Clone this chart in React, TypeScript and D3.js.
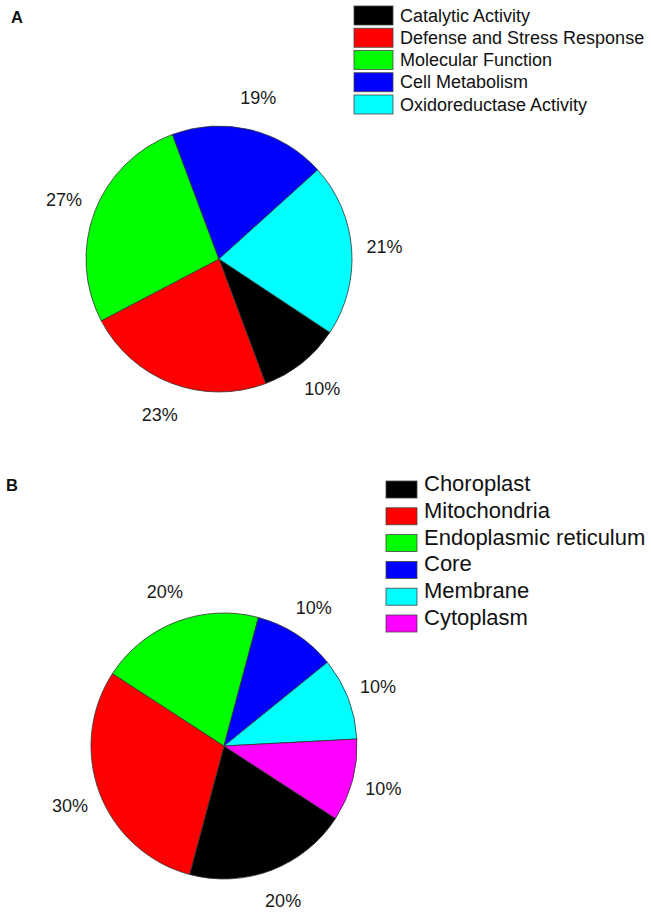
import React from "react";
import * as d3 from "d3";

const catsA = ["Catalytic Activity", "Defense and Stress Response", "Molecular Function", "Cell Metabolism", "Oxidoreductase Activity"];
const valsA = [10, 23, 27, 19, 21];
const colorsA = ["#000000", "#ff0000", "#00ff00", "#0000ff", "#00ffff"];

const catsB = ["Choroplast", "Mitochondria", "Endoplasmic reticulum", "Core", "Membrane", "Cytoplasm"];
const valsB = [20, 30, 20, 10, 10, 10];
const colorsB = ["#000000", "#ff0000", "#00ff00", "#0000ff", "#00ffff", "#ff00ff"];

const FONT = "'Liberation Sans', Arial, sans-serif";
const deg = Math.PI / 180;

type PieProps = {
  cx: number; cy: number; r: number; labelR: number; start: number;
  vals: number[]; colors: string[];
};

function Pie({ cx, cy, r, labelR, start, vals, colors }: PieProps) {
  const pie = d3.pie<number>().sort(null).value((d) => d)
    .startAngle(start * deg).endAngle(start * deg + 2 * Math.PI);
  const arcs = pie(vals);
  const arc = d3.arc<d3.PieArcDatum<number>>().innerRadius(0).outerRadius(r);
  const lab = d3.arc<d3.PieArcDatum<number>>().innerRadius(labelR).outerRadius(labelR);
  const total = d3.sum(vals);
  return (
    <g transform={`translate(${cx},${cy})`}>
      {arcs.map((a, i) => (
        <path key={i} d={arc(a) || ""} fill={colors[i]} stroke="#333" strokeWidth={0.8} />
      ))}
      {arcs.map((a, i) => {
        const [x, y] = lab.centroid(a);
        return (
          <text key={"t" + i} x={x} y={y} dy="0.36em" textAnchor="middle"
            fontFamily={FONT} fontSize={18} fill="#1a1a1a">
            {Math.round((vals[i] / total) * 100)}%
          </text>
        );
      })}
    </g>
  );
}

type LegendProps = {
  x: number; y: number; step: number; boxW: number; boxH: number; boxOff: number;
  textX: number; fontSize: number; cats: string[]; colors: string[];
};

function Legend({ x, y, step, boxW, boxH, boxOff, textX, fontSize, cats, colors }: LegendProps) {
  return (
    <g>
      {cats.map((c, i) => {
        const base = y + i * step;
        return (
          <g key={i}>
            <rect x={x} y={base - boxOff} width={boxW} height={boxH} fill={colors[i]} stroke="#444" strokeWidth={0.8} />
            <text x={textX} y={base} fontFamily={FONT} fontSize={fontSize} fill="#111">{c}</text>
          </g>
        );
      })}
    </g>
  );
}

export default function App() {
  return (
    <svg width={651} height={915} style={{ position: "absolute", left: 0, top: 0, background: "#fff" }}>
      <rect x={0} y={0} width={651} height={915} fill="#fff" />
      <text x={11} y={23} fontFamily={FONT} fontWeight="bold" fontSize={16.5} fill="#111">A</text>
      <Legend x={354} y={21.7} step={22.25} boxW={39} boxH={19} boxOff={15.7} textX={400}
        fontSize={18} cats={catsA} colors={colorsA} />
      <Pie cx={219} cy={259} r={133} labelR={166} start={123.5} vals={valsA} colors={colorsA} />

      <text x={6} y={491} fontFamily={FONT} fontWeight="bold" fontSize={16.5} fill="#111">B</text>
      <Legend x={386} y={491} step={26.8} boxW={31} boxH={17} boxOff={10} textX={424}
        fontSize={22} cats={catsB} colors={colorsB} />
      <Pie cx={224} cy={746} r={133} labelR={165} start={123} vals={valsB} colors={colorsB} />
    </svg>
  );
}
